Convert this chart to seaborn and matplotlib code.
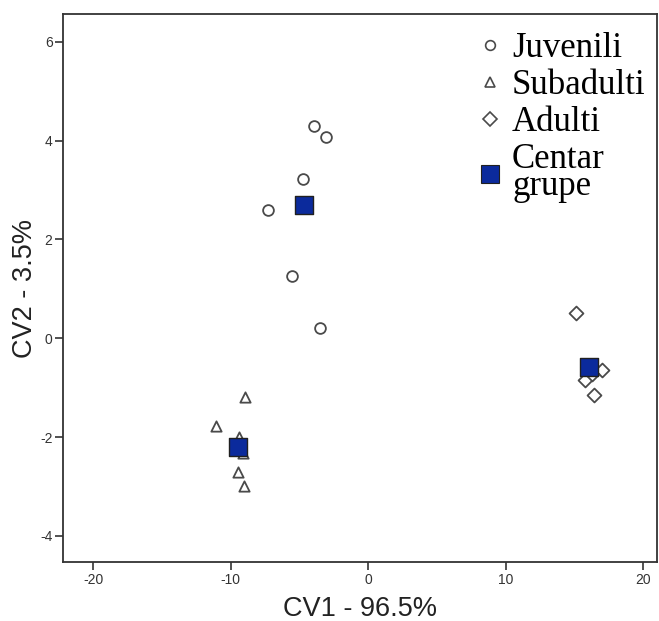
import matplotlib
matplotlib.use("Agg")
import matplotlib.pyplot as plt
from matplotlib.lines import Line2D
import seaborn as sns
import pandas as pd

# Discriminant scores (CV1, CV2) per age group
juv_cv1 = [-3.93, -3.06, -4.73, -7.28, -5.54, -3.50]
juv_cv2 = [4.29, 4.07, 3.22, 2.59, 1.26, 0.20]
sub_cv1 = [-8.96, -11.07, -9.40, -9.10, -9.47, -9.03]
sub_cv2 = [-1.19, -1.78, -2.00, -2.33, -2.71, -3.00]
adu_cv1 = [15.15, 17.04, 15.80, 16.40, 16.30]
adu_cv2 = [0.51, -0.65, -0.85, -1.15, -0.72]

# Group centroids
cen_cv1 = [-4.66, -9.47, 16.10]
cen_cv2 = [2.69, -2.21, -0.59]

groups = ["Juvenili", "Subadulti", "Adulti"]
legend_labels = ["Juvenili", "Subadulti", "Adulti", "Centar\ngrupe"]
x_ticks = [-20, -10, 0, 10, 20]
y_ticks = [-4, -2, 0, 2, 4, 6]

df = pd.DataFrame({
    "CV1": juv_cv1 + sub_cv1 + adu_cv1,
    "CV2": juv_cv2 + sub_cv2 + adu_cv2,
    "grupa": [groups[0]] * len(juv_cv1) + [groups[1]] * len(sub_cv1) + [groups[2]] * len(adu_cv1),
})
cen = pd.DataFrame({"CV1": cen_cv1, "CV2": cen_cv2})

sns.set_style("white")
plt.rcParams["font.family"] = ["Liberation Sans", "DejaVu Sans"]
plt.rcParams["axes.unicode_minus"] = False

fig = plt.figure(figsize=(6.59, 6.21), dpi=100)
ax = fig.add_axes([0.0956, 0.095, 0.901, 0.882])

edge = "#4a4a4a"
markers = {"Juvenili": "o", "Subadulti": "^", "Adulti": "D"}
sizes = {"Juvenili": 60, "Subadulti": 55, "Adulti": 50}
for g in groups:
    sns.scatterplot(data=df[df["grupa"] == g], x="CV1", y="CV2", marker=markers[g],
                    s=sizes[g], facecolor="white", edgecolor=edge, linewidth=1.3,
                    ax=ax, legend=False, zorder=3)

blue = "#0b2a9c"
sns.scatterplot(data=cen, x="CV1", y="CV2", marker="s", s=150, color=blue,
                edgecolor="#202020", linewidth=1.0, ax=ax, legend=False, zorder=4)

ax.set_xlim(-22.2, 21.0)
ax.set_ylim(-4.53, 6.56)
ax.set_xticks(x_ticks)
ax.set_yticks(y_ticks)
ax.tick_params(axis="both", direction="out", length=6, width=1.2, color="#333333",
               labelsize=10, labelcolor="#333333", bottom=True, left=True)
ax.tick_params(axis="y", pad=1.5)
ax.tick_params(axis="x", pad=2)
for s in ax.spines.values():
    s.set_color("#333333")
    s.set_linewidth(1.3)

ax.set_xlabel("CV1 - 96.5%", fontsize=19.5, color="#222222")
ax.set_ylabel("CV2 - 3.5%", fontsize=19.5, color="#222222")
ax.xaxis.set_label_coords(0.5, -0.062)
ax.yaxis.set_label_coords(-0.042, 0.5)

handles = [
    Line2D([], [], marker="o", ls="", ms=7, mfc="white", mec=edge, mew=1.2),
    Line2D([], [], marker="^", ls="", ms=7, mfc="white", mec=edge, mew=1.2),
    Line2D([], [], marker="D", ls="", ms=7, mfc="white", mec=edge, mew=1.2),
    Line2D([], [], marker="s", ls="", ms=13, mfc=blue, mec="#202020", mew=0.8),
]
leg = ax.legend(handles, legend_labels, loc="upper left", bbox_to_anchor=(0.695, 0.968),
                frameon=False, handlelength=0.8, handletextpad=0.25, labelspacing=0.12,
                borderaxespad=0, borderpad=0,
                prop={"family": "Liberation Serif", "size": 25})
for t in leg.get_texts():
    t.set_linespacing(0.75)
    t.set_color("black")

fig.savefig("out.png", dpi=100)
